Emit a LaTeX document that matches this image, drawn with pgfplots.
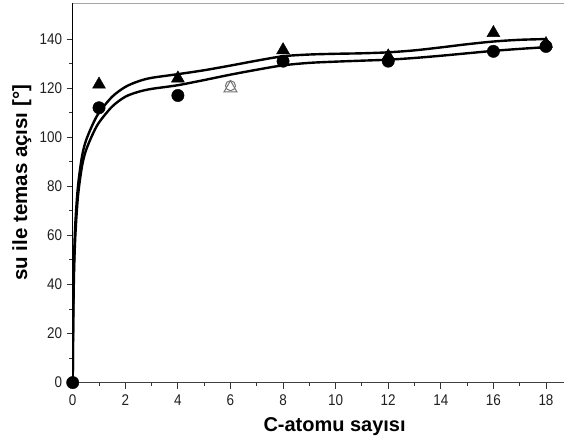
\documentclass[border=0pt]{standalone}
\usepackage{pgfplots}
\pgfplotsset{compat=1.18}
\usepackage{fontspec}
\setmainfont{Liberation Sans}
\newfontfamily\tickfont[FakeStretch=0.87]{Liberation Sans}
\begin{document}
\begin{tikzpicture}
\begin{axis}[
  name=ax,
  scale only axis,
  width=492.2pt, height=379.5pt,
  xmin=0, xmax=18.7, ymin=0, ymax=154.5,
  axis x line*=bottom, axis y line*=left,
  x axis line style={line width=1.2pt, black!75, -},
  y axis line style={line width=1.4pt, black, -},
  xtick={0,2,...,18}, ytick={0,20,...,140},
  minor x tick num=1, minor y tick num=1,
  tick align=outside,
  major tick length=6pt, minor tick length=3.5pt,
  every tick/.style={black!80, line width=0.9pt},
  /pgf/number format/assume math mode=true,
  xticklabel style={font=\tickfont\fontsize{15.5}{17}\selectfont, text=black!88, yshift=-2.5pt},
  yticklabel style={font=\tickfont\fontsize{15.5}{17}\selectfont, text=black!88, xshift=-1pt},
  xlabel={\textbf{C-atomu sayısı}},
  ylabel={\textbf{su ile temas açısı [°]}},
  xlabel style={font=\fontsize{20}{22}\selectfont, at={(ticklabel cs:0.5326)}, yshift=-5pt},
  ylabel style={font=\fontsize{20.5}{23}\selectfont, at={(ticklabel cs:0.527)}, yshift=1.5pt},
  clip=true,
]
\draw[black!35, line width=0.8pt] (rel axis cs:0,1) -- (rel axis cs:1,1);
% fitted curves
\addplot[black, line width=2.4pt, smooth, tension=0.5] coordinates {
(0,0)(0.02,30)(0.05,50)(0.1,65)(0.2,80)(0.35,92)(0.5,98.5)(0.75,105)(1,110)(1.5,116.5)(2,120.5)(2.5,122.8)(3,124.2)(4,125.7)(5,127.3)(6,129.2)(7,131.2)(8,133)(9,133.7)(10,134)(11,134.2)(12,134.6)(13,135.4)(14,136.6)(15,137.9)(16,139)(17,139.7)(18,140)};
\addplot[black, line width=2.4pt, smooth, tension=0.5] coordinates {
(0,0)(0.02,25)(0.05,45)(0.1,60)(0.2,76)(0.35,88)(0.5,94.5)(0.75,101)(1,106)(1.5,112.5)(2,116.5)(2.5,118.5)(3,119.7)(4,121.2)(5,123.3)(6,125.5)(7,127.5)(8,129.3)(9,130.3)(10,130.8)(11,131.2)(12,131.6)(13,132.3)(14,133.2)(15,134.2)(16,135.2)(17,136)(18,136.7)};
% triangles
\addplot[only marks, mark=triangle*, mark size=7.5pt, black] coordinates {
(1,121.5)(4,124)(8,135.5)(12,133)(16,142.5)(18,138)};
% circles
\addplot[only marks, mark=*, mark size=6.2pt, black] coordinates {
(0,0)(1,112)(4,117)(8,131)(12,131)(16,135)(18,137)};
% open markers at 6
\addplot[only marks, mark=triangle, mark size=7.5pt, black!55, line width=1pt] coordinates {(6,120)};
\addplot[only marks, mark=o, mark size=5pt, black!55, line width=1pt] coordinates {(6,121)};
\end{axis}
\path (ax.south west) ++(-72.8pt,-53pt) rectangle ++(565pt,436pt);
\end{tikzpicture}
\end{document}
